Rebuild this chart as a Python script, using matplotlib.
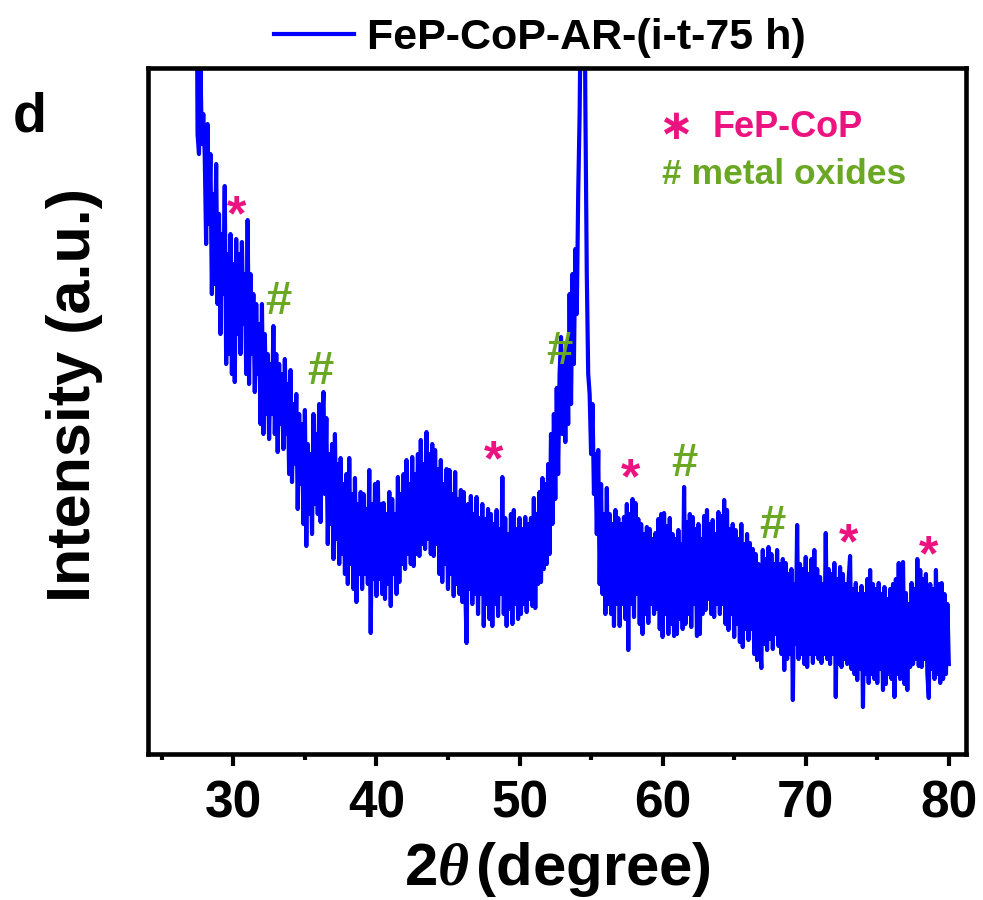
import numpy as np
import matplotlib
matplotlib.use("Agg")
import matplotlib.pyplot as plt
from matplotlib.ticker import MultipleLocator

plt.rcParams.update({"font.family": "Liberation Sans", "font.weight": "bold",
                     "axes.labelweight": "bold",
                     "mathtext.fontset": "custom", "mathtext.it": "Liberation Serif:italic",
                     "mathtext.rm": "Liberation Sans:bold"})

BLUE = "#0000FF"
PINK = "#EC1380"
GREEN = "#6AA823"

# 2theta from 27.4 to 80.0 deg, step 0.1
two_theta = np.round(np.arange(274, 801) / 10.0, 1)
# intensity (a.u.), one row per degree
intensity = [
    900, 620, 600, 690, 610, 640,                                  # 27.4-27.9
    600, 510, 630, 530, 600, 460, 560, 470, 590, 450,              # 28
    540, 420, 520, 460, 568, 390, 500, 400, 520, 380,              # 29
    490, 372, 515, 420, 500, 400, 512, 430, 480, 380,              # 30
    534, 370, 480, 400, 460, 362, 450, 380, 430, 330,              # 31
    450, 320, 420, 340, 400, 315, 390, 340, 428, 320,              # 32
    400, 302, 390, 330, 380, 305, 395, 320, 370, 280,              # 33
    384, 272, 350, 290, 360, 245, 340, 270, 330, 230,              # 34
    344, 208, 310, 240, 300, 220, 340, 250, 320, 240,              # 35
    350, 232, 330, 362, 260, 336, 210, 300, 230, 310,              # 36
    195, 320, 215, 290, 190, 296, 200, 270, 180, 280,              # 37
    170, 296, 190, 260, 165, 276, 152, 250, 180, 262,              # 38
    165, 260, 180, 245, 170, 284, 121, 250, 175, 270,              # 39
    158, 272, 175, 250, 160, 251, 155, 240, 170, 262,              # 40
    148, 255, 180, 240, 160, 277, 172, 260, 190, 280,              # 41
    185, 294, 200, 270, 190, 297, 188, 280, 200, 300,              # 42
    198, 314, 210, 290, 205, 322, 215, 300, 200, 310,              # 43
    198, 304, 210, 285, 180, 294, 172, 270, 190, 285,              # 44
    165, 284, 180, 260, 158, 282, 170, 255, 160, 264,              # 45
    152, 262, 170, 111, 250, 165, 258, 150, 240, 160,              # 46
    257, 140, 236, 160, 250, 128, 235, 150, 245, 135,              # 47
    240, 128, 230, 150, 244, 138, 225, 160, 277, 140,              # 48
    236, 128, 220, 145, 240, 130, 244, 150, 225, 135,              # 49
    236, 140, 225, 150, 237, 142, 230, 155, 236, 148,              # 50
    256, 146, 240, 170, 262, 172, 276, 185, 270, 190,              # 51
    290, 200, 320, 230, 340, 255, 366, 280, 380, 417,              # 52
    320, 400, 312, 410, 330, 460, 350, 480, 390, 505,              # 53
    440, 560, 640, 780, 950, 900, 650, 480, 380, 360,              # 54
    300, 350, 260, 300, 220, 304, 170, 270, 160, 240,              # 55
    140, 266, 150, 240, 140, 230, 128, 244, 150, 236,              # 56
    128, 230, 150, 237, 135, 250, 104, 240, 150, 255,              # 57
    137, 251, 160, 235, 130, 230, 120, 220, 140, 227,              # 58
    131, 225, 150, 215, 140, 221, 145, 235, 125, 240,              # 59
    117, 241, 140, 228, 120, 236, 130, 220, 118, 215,              # 60
    120, 224, 135, 210, 125, 267, 130, 232, 140, 240,              # 61
    127, 237, 150, 225, 118, 230, 120, 215, 140, 238,              # 62
    144, 244, 155, 230, 140, 234, 137, 220, 150, 242,              # 63
    140, 238, 150, 254, 130, 244, 124, 225, 140, 230,              # 64
    117, 224, 130, 215, 112, 230, 107, 210, 125, 220,              # 65
    114, 211, 125, 205, 100, 200, 94, 190, 115, 86,                # 66
    204, 110, 195, 104, 207, 115, 200, 105, 190, 120,              # 67
    204, 108, 190, 100, 195, 84, 191, 95, 180, 100,                # 68
    185, 54, 170, 110, 229, 95, 190, 100, 185, 90,                 # 69
    197, 87, 180, 100, 195, 91, 204, 100, 185, 95,                 # 70
    177, 91, 170, 100, 221, 95, 185, 90, 180, 100,                 # 71
    191, 57, 175, 90, 187, 87, 180, 95, 170, 90,                   # 72
    175, 198, 85, 165, 80, 171, 74, 160, 85, 168,                  # 73
    47, 160, 80, 175, 71, 184, 80, 170, 75, 165,                   # 74
    71, 171, 85, 160, 64, 167, 70, 155, 80, 165,                   # 75
    75, 170, 57, 175, 80, 191, 75, 170, 192, 70,                   # 76
    161, 64, 150, 87, 171, 90, 165, 95, 195, 88,                   # 77
    184, 87, 175, 95, 180, 80, 56, 170, 85, 165,                   # 78
    75, 184, 80, 170, 71, 171, 75, 160, 80, 150,                   # 79
    90,                                                            # 80.0
]

# peak labels: (2theta, intensity)
star_x = [30.2, 48.2, 57.77, 72.99, 78.57]
star_y = [549, 304, 286, 221, 209]
hash_x = [33.14, 36.07, 52.8, 61.54, 67.7]
hash_y = [452, 382, 402, 290, 228]

fig = plt.figure(figsize=(9.83, 9.0), dpi=100)
ax = fig.add_axes([0.1506, 0.1622, 0.8321, 0.7622])

ax.plot(two_theta, intensity, color=BLUE, lw=3, label="FeP-CoP-AR-(i-t-75 h)")

for x, y in zip(star_x, star_y):
    ax.text(x, y - 12, "*", color=PINK, fontsize=36, ha="center", va="center")
for x, y in zip(hash_x, hash_y):
    ax.text(x, y, "#", color=GREEN, fontsize=34, ha="center", va="center")

# key in the upper right
ax.text(60.9, 627, "\u2217", color=PINK, fontsize=30, family="DejaVu Sans",
        fontweight="bold", ha="center", va="center")
ax.text(63.5, 627, "FeP-CoP", color=PINK, fontsize=26, ha="left", va="center")
ax.text(59.94, 580, "# metal oxides", color=GREEN, fontsize=25.5, ha="left", va="center")

ax.set_xlim(24.04, 81.2)
ax.set_ylim(0, 686)
ax.set_yticks([])
ax.xaxis.set_major_locator(MultipleLocator(10))
ax.xaxis.set_minor_locator(MultipleLocator(5))
ax.tick_params(axis="x", which="major", direction="out", length=8.5, width=3,
               labelsize=37, pad=10)
ax.tick_params(axis="x", which="minor", direction="out", length=4, width=3)
for s in ax.spines.values():
    s.set_linewidth(3.3)

ax.set_xlabel("2$\\theta\\,$(degree)", fontsize=43, fontweight="bold", labelpad=8)
fig.text(75 / 983, 1 - 395 / 900, "Intensity (a.u.)", rotation=90, fontsize=44,
         ha="center", va="center")
fig.text(13 / 983, 1 - 132 / 900, "d", fontsize=40, ha="left", va="baseline")

ax.legend(loc="lower center", bbox_to_anchor=(0.479, 0.99), frameon=False,
          handlelength=1.86, handletextpad=0.3, borderaxespad=0,
          prop={"weight": "bold", "size": 31})

fig.savefig("out.png", dpi=100)
